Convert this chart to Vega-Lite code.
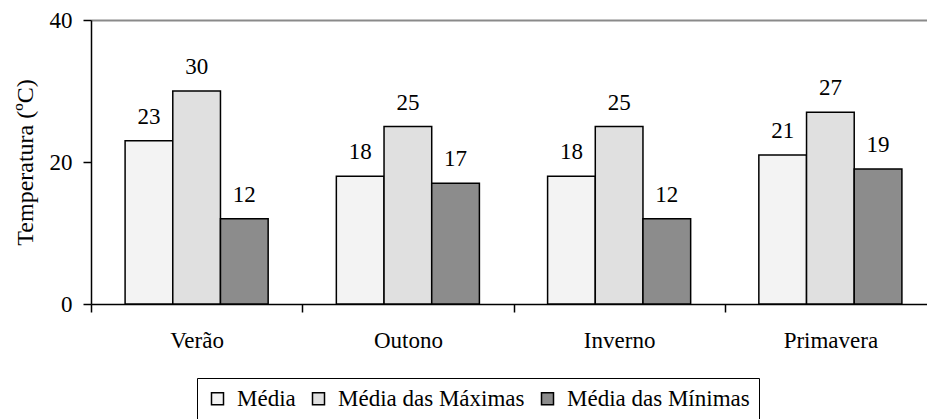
{
  "$schema": "https://vega.github.io/schema/vega-lite/v6.json",
  "width": 836,
  "height": 284,
  "autosize": {"type": "none"},
  "padding": {"left": 91, "top": 20, "right": 0, "bottom": 115},
  "background": "white",
  "config": {
    "font": "Liberation Serif",
    "view": {"stroke": null}
  },
  "data": {
    "values": [
      {"estacao": "Verão", "serie": "Média", "valor": 23},
      {"estacao": "Verão", "serie": "Média das Máximas", "valor": 30},
      {"estacao": "Verão", "serie": "Média das Mínimas", "valor": 12},
      {"estacao": "Outono", "serie": "Média", "valor": 18},
      {"estacao": "Outono", "serie": "Média das Máximas", "valor": 25},
      {"estacao": "Outono", "serie": "Média das Mínimas", "valor": 17},
      {"estacao": "Inverno", "serie": "Média", "valor": 18},
      {"estacao": "Inverno", "serie": "Média das Máximas", "valor": 25},
      {"estacao": "Inverno", "serie": "Média das Mínimas", "valor": 12},
      {"estacao": "Primavera", "serie": "Média", "valor": 21},
      {"estacao": "Primavera", "serie": "Média das Máximas", "valor": 27},
      {"estacao": "Primavera", "serie": "Média das Mínimas", "valor": 19}
    ]
  },
  "encoding": {
    "x": {
      "field": "estacao",
      "type": "nominal",
      "sort": ["Verão", "Outono", "Inverno", "Primavera"],
      "scale": {"range": [0, 845], "paddingInner": 0, "paddingOuter": 0},
      "axis": {
        "title": null,
        "labelAngle": 0,
        "labelFontSize": 23,
        "labelColor": "black",
        "labelPadding": 17,
        "tickBand": "extent",
        "tickSize": 8,
        "tickColor": "black",
        "tickWidth": 1.5,
        "domainColor": "black",
        "domainWidth": 1.5
      }
    },
    "xOffset": {
      "field": "serie",
      "type": "nominal",
      "sort": ["Média", "Média das Máximas", "Média das Mínimas"],
      "scale": {"paddingInner": 0, "paddingOuter": 0.715}
    },
    "y": {
      "field": "valor",
      "type": "quantitative",
      "scale": {"domain": [0, 40]},
      "axis": {
        "values": [0, 20, 40],
        "title": "Temperatura (ºC)",
        "titleFontSize": 24,
        "titleFontWeight": "normal",
        "titleColor": "black",
        "titlePadding": 12,
        "labelFontSize": 23,
        "labelColor": "black",
        "labelPadding": 11,
        "tickSize": 8,
        "tickColor": "black",
        "tickWidth": 1.5,
        "domainColor": "black",
        "domainWidth": 1.5,
        "grid": true,
        "gridColor": "#8a8a8a",
        "gridWidth": 2,
        "gridOpacity": {"condition": {"test": "datum.value === 40", "value": 1}, "value": 0}
      }
    }
  },
  "layer": [
    {
      "mark": {"type": "bar", "stroke": "black", "strokeWidth": 1.5},
      "encoding": {
        "fill": {
          "field": "serie",
          "type": "nominal",
          "sort": ["Média", "Média das Máximas", "Média das Mínimas"],
          "scale": {"range": ["#f3f3f3", "#e0e0e0", "#8c8c8c"]},
          "legend": {
            "title": null,
            "orient": "none",
            "legendX": 106,
            "legendY": 358,
            "direction": "horizontal",
            "symbolType": "square",
            "symbolSize": 144,
            "symbolStrokeColor": "black",
            "symbolStrokeWidth": 1.5,
            "symbolOpacity": 1,
            "labelFontSize": 23,
            "labelColor": "black",
            "labelOffset": 8,
            "columnPadding": 11,
            "padding": 9,
            "strokeColor": "black",
            "labelLimit": 400
          }
        }
      }
    },
    {
      "mark": {"type": "text", "dy": -17, "fontSize": 23, "baseline": "alphabetic", "color": "black"},
      "encoding": {"text": {"field": "valor", "type": "quantitative"}}
    }
  ]
}
